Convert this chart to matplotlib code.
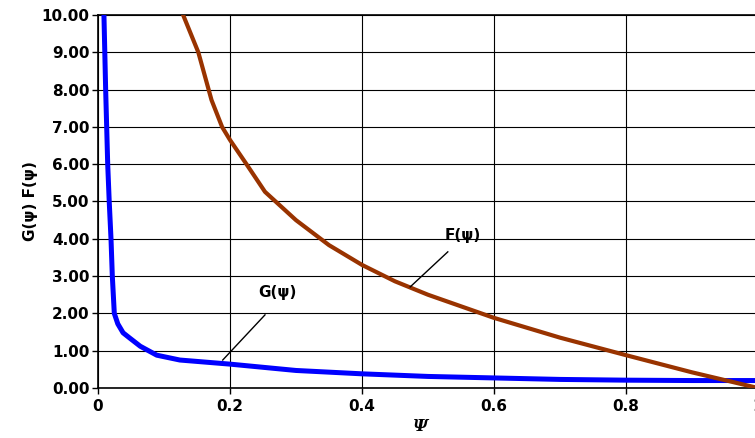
import numpy as np
import matplotlib
matplotlib.use('Agg')
from matplotlib import pyplot as plt

### data
psi_g = [0.009, 0.0116, 0.0147, 0.017, 0.0197, 0.0217, 0.0247, 0.030, 0.038, 0.048,
         0.064, 0.089, 0.124, 0.2, 0.3, 0.4, 0.5, 0.6, 0.7, 0.8, 0.9, 1.0]
g_vals = [10.0, 8.0, 6.0, 5.0, 4.0, 3.0, 2.0, 1.72, 1.48, 1.34,
          1.12, 0.88, 0.75, 0.64, 0.47, 0.38, 0.31, 0.27, 0.23, 0.21, 0.20, 0.20]

psi_f = [0.129, 0.152, 0.172, 0.188, 0.2, 0.225, 0.253, 0.3, 0.35, 0.4,
         0.45, 0.5, 0.6, 0.7, 0.8, 0.9, 1.0]
f_vals = [10.0, 9.0, 7.72, 7.0, 6.65, 6.0, 5.26, 4.5, 3.83, 3.3,
          2.86, 2.5, 1.88, 1.35, 0.88, 0.42, 0.0]

x_ticks = [0, 0.2, 0.4, 0.6, 0.8, 1.0]
x_labels = ['0', '0.2', '0.4', '0.6', '0.8', '1']
y_ticks = np.arange(0, 11, 1)

plt.rcParams['font.family'] = ['DejaVu Sans']

fig = plt.figure(figsize=(7.55, 4.38), dpi=100)
# right edge of the plot runs off the image like in the reference
ax = fig.add_axes([98/755, 50/438, 660/755, 373/438])

ax.plot(psi_g, g_vals, color='#0000FF', lw=3.6, solid_joinstyle='round', zorder=3)
ax.plot(psi_f, f_vals, color='#993300', lw=3.0, solid_joinstyle='round', zorder=3)

ax.set_xlim(0, 1)
ax.set_ylim(0, 10)
ax.set_xticks(x_ticks)
ax.set_xticklabels(x_labels, fontsize=11, fontweight='bold')
ax.set_yticks(y_ticks)
ax.set_yticklabels(['%.2f' % v for v in y_ticks], fontsize=11, fontweight='bold')
ax.tick_params(direction='out', length=4, width=1, color='black')
ax.tick_params(axis='y', pad=2)
ax.tick_params(axis='x', pad=4)
ax.grid(True, color='black', lw=0.8)
ax.set_axisbelow(True)
for s in ['left', 'bottom', 'top']:
    ax.spines[s].set_color('black')
    ax.spines[s].set_linewidth(1.2)
ax.spines['right'].set_visible(False)

### labels with leader lines
ax.plot([0.253, 0.189], [1.96, 0.75], color='black', lw=1, zorder=4)
ax.text(0.272, 2.55, 'G(ψ)', fontsize=11, fontweight='bold', ha='center', va='center')
ax.plot([0.530, 0.473], [3.65, 2.71], color='black', lw=1, zorder=4)
ax.text(0.552, 4.10, 'F(ψ)', fontsize=11, fontweight='bold', ha='center', va='center')

ax.set_ylabel('G(ψ) F(ψ)', fontsize=11, fontweight='bold', va='center')
ax.yaxis.set_label_coords(-0.102, 0.5)
ax.set_xlabel('Ψ', fontsize=12, fontweight='bold', fontstyle='italic',
              family='DejaVu Serif', va='center')
ax.xaxis.set_label_coords(0.489, -0.104)

fig.savefig('out.png', dpi=100)
